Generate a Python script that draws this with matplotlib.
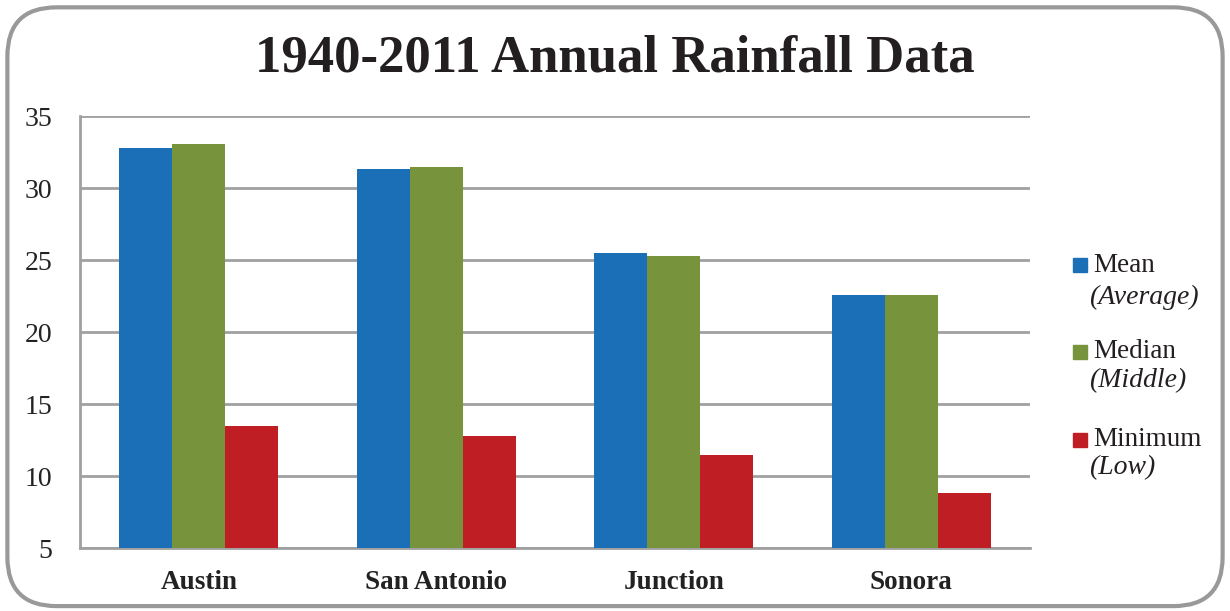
import numpy as np
import matplotlib.pyplot as plt
from matplotlib.patches import FancyBboxPatch, Rectangle

cities = ['Austin', 'San Antonio', 'Junction', 'Sonora']
mean_vals = [32.8, 31.3, 25.5, 22.6]
median_vals = [33.05, 31.45, 25.3, 22.6]
min_vals = [13.45, 12.8, 11.45, 8.8]
yticks = [5, 10, 15, 20, 25, 30, 35]

series = [
    ('Mean', '(Average)', mean_vals, '#1a6fb7'),
    ('Median', '(Middle)', median_vals, '#77933c'),
    ('Minimum', '(Low)', min_vals, '#be1e24'),
]

plt.rcParams['font.family'] = ['Liberation Serif', 'DejaVu Serif']

fig = plt.figure(figsize=(12.3, 6.11), dpi=100)
ax = fig.add_axes([0.065, 0.1031, 0.7724, 0.707])

x = np.arange(len(cities))
w = 0.223
for i, (name, sub, vals, col) in enumerate(series):
    ax.bar(x + (i - 1) * w, vals, width=w, bottom=0, color=col, zorder=3)

ax.set_ylim(5, 35)
ax.set_xlim(-0.5, len(cities) - 0.5)
ax.set_yticks(yticks)
ax.set_yticklabels([str(t) for t in yticks], fontsize=20, color='#222222')
ax.set_xticks(x)
ax.set_xticklabels(cities, fontsize=19.5, fontweight='bold', color='#222222')
ax.tick_params(axis='y', length=0, pad=20)
ax.tick_params(axis='x', length=0, pad=16)
ax.yaxis.grid(True, color='#a0a0a0', linewidth=2, zorder=0)
for s in ['top', 'right']:
    ax.spines[s].set_visible(False)
ax.spines['left'].set_color('#a0a0a0')
ax.spines['bottom'].set_color('#a0a0a0')
ax.spines['left'].set_linewidth(2)
ax.spines['bottom'].set_linewidth(2)

fig.text(0.5, 0.905, '1940-2011 Annual Rainfall Data', ha='center', va='center',
         fontsize=38, fontweight='bold', color='#231f20')

# legend drawn by hand: name plus italic note beneath
W, H = 1230, 611
leg_y = [265, 352, 440]
leg_sub_y = [297, 381, 468]
for (name, sub, vals, col), yy, ys in zip(series, leg_y, leg_sub_y):
    fig.patches.append(Rectangle((1073 / W, 1 - (yy + 7) / H), 14 / W, 14 / H,
                                 transform=fig.transFigure, color=col))
    fig.text(1093 / W, 1 - yy / H, name, fontsize=19.5, va='center', color='#231f20')
    fig.text(1089 / W, 1 - ys / H, sub, fontsize=20, va='center', style='italic', color='#231f20')

border = FancyBboxPatch((0.006, 0.008), 0.988, 0.98, boxstyle='round,pad=0,rounding_size=0.04',
                        transform=fig.transFigure, fill=False, edgecolor='#999999', linewidth=3,
                        mutation_aspect=1230 / 611)
fig.patches.append(border)

fig.savefig('out.png', dpi=100)
